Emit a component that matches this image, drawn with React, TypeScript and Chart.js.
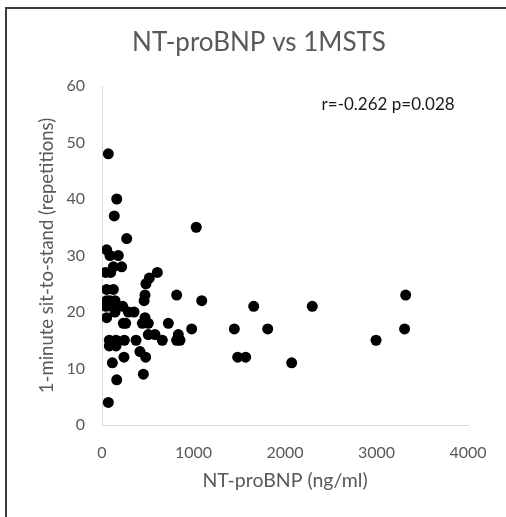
import React, { useEffect, useRef } from "react";
import { Chart, registerables } from "chart.js";

Chart.register(...registerables);

const chartTitle = "NT-proBNP vs 1MSTS";
const xAxisTitle = "NT-proBNP (ng/ml)";
const yAxisTitle = "1-minute sit-to-stand (repetitions)";
const statsLabel = "r=-0.262 p=0.028";

const xTickValues = [0, 1000, 2000, 3000, 4000];
const yTickValues = [0, 10, 20, 30, 40, 50, 60];

const ntProBNP = [
  69, 161, 134, 270, 1030,
  51, 87, 178,
  40, 95, 124, 215,
  605, 517, 480,
  51, 124,
  470, 816,
  1090,
  51, 87, 142, 460,
  44, 124, 226, 1658, 2298, 3319,
  142, 288, 350,
  51, 470,
  233, 259, 441, 506, 725,
  980, 1446, 1811, 3307,
  506, 579, 834,
  80, 153, 244, 372, 659, 816, 852, 2995,
  80, 153,
  415,
  240, 477, 1483, 1570,
  113, 2073,
  452, 161, 69,
];

const sitToStand = [
  48, 40, 37, 33, 35,
  31, 30, 30,
  27, 27, 28, 28,
  27, 26, 25,
  24, 24,
  23, 23,
  22,
  22, 22, 22, 22,
  21, 21, 21, 21, 21, 23,
  20, 20, 20,
  19, 19,
  18, 18, 18, 18, 18,
  17, 17, 17, 17,
  16, 16, 16,
  15, 15, 15, 15, 15, 15, 15, 15,
  14, 14,
  13,
  12, 12, 12, 12,
  11, 11,
  9, 8, 4,
];

const FONT = "Lato, 'Open Sans', sans-serif";

export default function App() {
  const canvasRef = useRef<HTMLCanvasElement | null>(null);

  useEffect(() => {
    const canvas = canvasRef.current;
    if (!canvas) return;
    const points = ntProBNP.map((x, i) => ({ x, y: sitToStand[i] }));

    const overlay = {
      id: "overlayText",
      afterDraw(chart: any) {
        const ctx = chart.ctx;
        const xs = chart.scales.x;
        const ys = chart.scales.y;
        ctx.save();
        ctx.fillStyle = "#595959";
        ctx.font = `26px ${FONT}`;
        ctx.textAlign = "center";
        ctx.textBaseline = "middle";
        ctx.fillText(chartTitle, 259, 43);
        ctx.fillStyle = "#1a1a1a";
        ctx.font = `17px ${FONT}`;
        ctx.textAlign = "left";
        ctx.fillText(statsLabel, xs.getPixelForValue(2400), ys.getPixelForValue(56.8));
        ctx.restore();
      },
    };

    const chart = new Chart(canvas, {
      type: "scatter",
      data: {
        datasets: [
          {
            data: points,
            backgroundColor: "#000000",
            borderWidth: 0,
            pointRadius: 5.5,
          },
        ],
      },
      options: {
        animation: false,
        responsive: false,
        maintainAspectRatio: false,
        layout: { padding: { left: 0, right: 38, top: 86, bottom: 0 } },
        plugins: {
          legend: { display: false },
          title: { display: false },
          tooltip: { enabled: false },
        },
        scales: {
          x: {
            type: "linear",
            min: 0,
            max: 4000,
            afterBuildTicks: (s: any) => {
              s.ticks = xTickValues.map((v) => ({ value: v }));
            },
            afterFit: (s: any) => {
              s.height = 92;
            },
            ticks: {
              color: "#595959",
              font: { family: FONT, size: 16 },
              padding: 18,
              maxRotation: 0,
              callback: (v: any) => String(v),
            },
            grid: { display: true, drawOnChartArea: false, drawTicks: false },
            border: { display: true, color: "#d9d9d9", width: 1 },
            title: {
              display: true,
              text: xAxisTitle,
              color: "#595959",
              font: { family: FONT, size: 19.5 },
              padding: { top: 0, bottom: 25 },
            },
          },
          y: {
            type: "linear",
            min: 0,
            max: 60,
            afterBuildTicks: (s: any) => {
              s.ticks = yTickValues.map((v) => ({ value: v }));
            },
            afterFit: (s: any) => {
              s.width = 102;
            },
            ticks: {
              color: "#595959",
              font: { family: FONT, size: 16 },
              padding: 17,
              callback: (v: any) => String(v),
            },
            grid: { display: true, drawOnChartArea: false, drawTicks: false },
            border: { display: true, color: "#d9d9d9", width: 1 },
            title: {
              display: true,
              text: yAxisTitle,
              color: "#595959",
              font: { family: FONT, size: 18.5 },
              padding: { top: 36, bottom: 0 },
            },
          },
        },
      },
      plugins: [overlay],
    });
    return () => chart.destroy();
  }, []);

  return (
    <div>
      <div
        style={{
          position: "absolute",
          left: 5,
          top: 7,
          width: 501,
          height: 510,
          borderLeft: "2px solid #3a3a3a",
          borderTop: "2px solid #3a3a3a",
          boxSizing: "border-box",
        }}
      />
      <canvas
        ref={canvasRef}
        width={506}
        height={517}
        style={{ position: "absolute", left: 0, top: 0, width: 506, height: 517 }}
      />
    </div>
  );
}
